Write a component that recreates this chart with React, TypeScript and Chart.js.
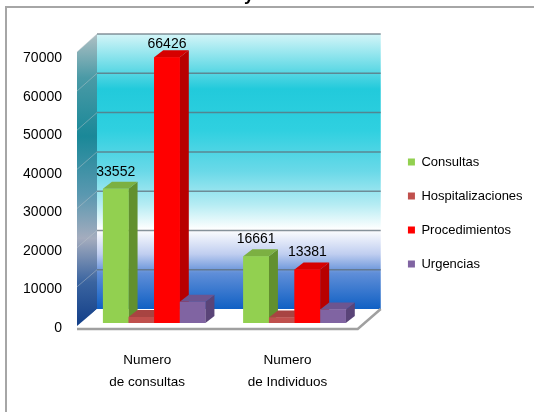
import { useEffect, useRef } from "react";
import { Chart, registerables } from "chart.js";

Chart.register(...registerables);

// ---- data ----
const categories = [
  ["Numero", "de consultas"],
  ["Numero", "de Individuos"],
];
const seriesNames = ["Consultas", "Hospitalizaciones", "Procedimientos", "Urgencias"];
const consultas = [33552, 16661];
const hospitalizaciones = [1500, 1400];
const procedimientos = [66426, 13381];
const urgencias = [5300, 3400];
const yTicks = [0, 10000, 20000, 30000, 40000, 50000, 60000, 70000];
const labeledSeries = [true, false, true, false];

// ---- styles ----
const frontColors = ["#92d050", "#c0504d", "#ff0000", "#8064a2"];
const sideColors = ["#62902e", "#8e3533", "#b80000", "#5a4478"];
const topColors = ["#7cb042", "#a84442", "#d60000", "#6c5590"];
const NUM_FONT = "'Liberation Sans', Arial, sans-serif";
const TXT_FONT = "'Liberation Sans', Arial, sans-serif";
const DX = 9;
const DY = 7;

const scenePlugin = {
  id: "scene3d",
  beforeDatasetsDraw(chart: any) {
    const { ctx, chartArea } = chart;
    const y = chart.scales.y;
    const L = chartArea.left;
    const R = chartArea.right;
    const p0 = y.getPixelForValue(0);
    const vTop = yTicks[yTicks.length - 1];
    const backY = (v: number) => p0 - 14 + (y.getPixelForValue(v) - p0) * 0.982;
    const sideY = (v: number) => p0 + 3 + (y.getPixelForValue(v) - p0) * 0.979;
    const bL = L + 13, bR = R + 16, fL = L - 7, fR = R - 7;
    const yTop = backY(vTop), yBot = backY(0);
    const floorFront = p0 + 5;

    ctx.save();
    // back wall
    const g = ctx.createLinearGradient(0, yTop, 0, yBot);
    g.addColorStop(0, "#d4f5f8");
    g.addColorStop(0.2, "#22cadb");
    g.addColorStop(0.35, "#2fd0e0");
    g.addColorStop(0.5, "#6ad9e8");
    g.addColorStop(0.62, "#b5ecf3");
    g.addColorStop(0.71, "#ffffff");
    g.addColorStop(0.8, "#c0cef0");
    g.addColorStop(0.87, "#5f8ed8");
    g.addColorStop(1, "#1060c4");
    ctx.fillStyle = g;
    ctx.fillRect(bL, yTop, bR - bL, yBot - yTop);

    // left wall
    const g2 = ctx.createLinearGradient(0, yTop, 0, sideY(0));
    g2.addColorStop(0, "#b0c0c4");
    g2.addColorStop(0.15, "#4a9aa6");
    g2.addColorStop(0.35, "#1a8898");
    g2.addColorStop(0.55, "#5a98b0");
    g2.addColorStop(0.7, "#a4acbe");
    g2.addColorStop(0.85, "#3a64a0");
    g2.addColorStop(1, "#123e88");
    ctx.fillStyle = g2;
    ctx.beginPath();
    ctx.moveTo(fL, sideY(0));
    ctx.lineTo(fL, sideY(vTop));
    ctx.lineTo(bL, backY(vTop));
    ctx.lineTo(bL, backY(0));
    ctx.closePath();
    ctx.fill();

    // gridlines
    yTicks.forEach((v) => {
      if (v === 0) return;
      const by = backY(v);
      ctx.strokeStyle = "rgba(95,110,120,0.75)";
      ctx.lineWidth = 1.5;
      ctx.beginPath();
      ctx.moveTo(bL, by);
      ctx.lineTo(bR, by);
      ctx.stroke();
      ctx.strokeStyle = "rgba(190,200,205,0.45)";
      ctx.lineWidth = 1;
      ctx.beginPath();
      ctx.moveTo(fL, sideY(v));
      ctx.lineTo(bL, by);
      ctx.stroke();
    });

    // floor
    ctx.fillStyle = "#ffffff";
    ctx.beginPath();
    ctx.moveTo(fL, floorFront);
    ctx.lineTo(fR, floorFront);
    ctx.lineTo(bR, yBot);
    ctx.lineTo(bL, yBot);
    ctx.closePath();
    ctx.fill();
    ctx.strokeStyle = "#a0a0a0";
    ctx.lineWidth = 2.5;
    ctx.beginPath();
    ctx.moveTo(fL, floorFront + 1);
    ctx.lineTo(fR, floorFront + 1);
    ctx.lineTo(bR, yBot);
    ctx.stroke();
    ctx.restore();
  },
  afterDatasetsDraw(chart: any) {
    const { ctx, chartArea } = chart;
    ctx.save();
    const n = chart.data.labels.length;
    for (let c = 0; c < n; c++) {
      chart.data.datasets.forEach((_: any, di: number) => {
        const el: any = chart.getDatasetMeta(di).data[c];
        if (!el) return;
        const l = el.x - el.width / 2;
        const r = el.x + el.width / 2;
        const t = el.y;
        const b = el.base;
        // side
        ctx.fillStyle = sideColors[di];
        ctx.beginPath();
        ctx.moveTo(r, t);
        ctx.lineTo(r + DX, t - DY);
        ctx.lineTo(r + DX, b - DY);
        ctx.lineTo(r, b);
        ctx.closePath();
        ctx.fill();
        // top
        ctx.fillStyle = topColors[di];
        ctx.beginPath();
        ctx.moveTo(l, t);
        ctx.lineTo(l + DX, t - DY);
        ctx.lineTo(r + DX, t - DY);
        ctx.lineTo(r, t);
        ctx.closePath();
        ctx.fill();
        // front
        ctx.fillStyle = frontColors[di];
        ctx.fillRect(l, t, r - l, b - t);
      });
    }
    // data labels
    ctx.fillStyle = "#000";
    ctx.font = `14px ${NUM_FONT}`;
    ctx.textAlign = "center";
    ctx.textBaseline = "middle";
    chart.data.datasets.forEach((ds: any, di: number) => {
      if (!labeledSeries[di]) return;
      chart.getDatasetMeta(di).data.forEach((el: any, i: number) => {
        const ly = Math.max(el.y - 17, chartArea.top + 1);
        ctx.fillText(String(ds.data[i]), el.x, ly);
      });
    });
    ctx.restore();
  },
};

export default function App() {
  const ref = useRef<HTMLCanvasElement | null>(null);
  useEffect(() => {
    if (!ref.current) return;
    const seriesData = [consultas, hospitalizaciones, procedimientos, urgencias];
    const chart = new Chart(ref.current, {
      type: "bar",
      data: {
        labels: categories as any,
        datasets: seriesNames.map((name, i) => ({
          label: name,
          data: seriesData[i],
          backgroundColor: frontColors[i],
          borderWidth: 0,
          categoryPercentage: 0.73,
          barPercentage: 1,
          xAxisID: "x",
          yAxisID: "y",
        })),
      },
      options: {
        responsive: false,
        animation: false,
        layout: { padding: { top: 14, bottom: 0, left: 0, right: 1.4 } },
        plugins: {
          tooltip: { enabled: false },
          legend: {
            position: "right",
            align: "center",
            maxWidth: 400,
            labels: {
              boxWidth: 7,
              boxHeight: 7,
              padding: 21,
              color: "#000",
              font: { family: TXT_FONT, size: 13 },
            },
          },
        },
        scales: {
          x: {
            type: "category",
            position: "bottom",
            grid: { display: false, drawTicks: false },
            border: { display: false },
            ticks: {
              color: "#000",
              padding: 18,
              labelOffset: -7,
              font: { family: TXT_FONT, size: 13.5, lineHeight: 1.63 },
            },
            afterFit: (s: any) => {
              s.height = 81;
            },
          },
          y: {
            type: "linear",
            display: false,
            min: -2000,
            max: 70000,
          },
          y2: {
            type: "linear",
            position: "left",
            min: -779,
            max: 74026,
            grid: { display: false, drawTicks: false },
            border: { display: false },
            afterBuildTicks: (s: any) => {
              s.ticks = yTicks.map((v) => ({ value: v }));
            },
            ticks: {
              color: "#000",
              padding: 22,
              font: { family: NUM_FONT, size: 14 },
              callback: (v: any) => String(v),
            },
            afterFit: (s: any) => {
              s.width = 84;
            },
          },
          xt: {
            type: "linear",
            position: "top",
            grid: { display: false, drawTicks: false },
            border: { display: false },
            ticks: { display: false },
            afterFit: (s: any) => {
              s.height = 29;
            },
          },
          yr: {
            type: "linear",
            position: "right",
            grid: { display: false, drawTicks: false },
            border: { display: false },
            ticks: { display: false },
            afterFit: (s: any) => {
              s.width = 22.2;
            },
          },
        },
      } as any,
      plugins: [scenePlugin],
    });
    return () => chart.destroy();
  }, []);

  return (
    <div
      style={{
        position: "fixed",
        left: 0,
        top: 0,
        width: 534,
        height: 412,
        overflow: "hidden",
        background: "#fff",
      }}
    >
      <div
        style={{
          position: "absolute",
          left: 5,
          top: 6,
          width: 600,
          height: 500,
          borderLeft: "2px solid #a6a6a6",
          borderTop: "2px solid #a6a6a6",
        }}
      />
      <canvas
        ref={ref}
        width={534}
        height={412}
        style={{ position: "absolute", left: 0, top: 0, display: "block" }}
      />
      <span
        style={{
          position: "absolute",
          left: 244,
          top: -15,
          font: `bold 18px ${NUM_FONT}`,
          lineHeight: "18px",
          color: "#000",
        }}
      >
        y
      </span>
    </div>
  );
}
